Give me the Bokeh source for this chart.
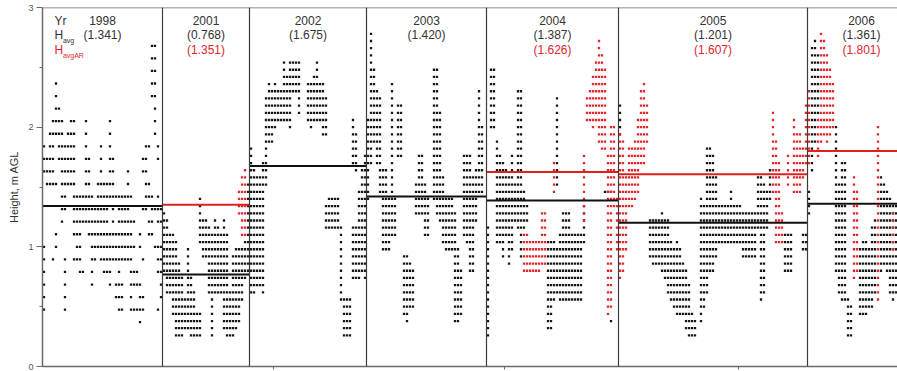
import numpy as np
from bokeh.plotting import figure
from bokeh.models import Range1d, Span, FixedTicker, ColumnDataSource, LinearAxis
from bokeh.embed import file_html
from bokeh.resources import INLINE
from bokeh.core.properties import value

# ---- seasons ---------------------------------------------------------------
years = ["1998", "2001", "2002", "2003", "2004", "2005", "2006"]
panel_days = [40, 29, 39, 40, 44, 63, 36]          # observation days per season
h_avg = [1.341, 0.768, 1.675, 1.420, 1.387, 1.201, 1.361]
h_avg_ar = [None, 1.351, None, None, 1.626, 1.607, 1.801]
x_ticks_days = [77, 154, 232]                      # unlabelled marks on the time axis
y_ticks = [0, 1, 2, 3]
y_minor_ticks = [0.5, 1.5, 2.5]

STEP_1998 = 0.105   # height resolution of the 1998 soundings (m)
STEP = 0.06         # height resolution from 2001 on (m)

# ---- 1998: readings per height level, as runs of days ----------------------
levels_1998 = [2.68, 2.575, 2.47, 2.365, 2.26, 2.155, 2.05, 1.945, 1.84, 1.735,
               1.63, 1.525, 1.42, 1.315, 1.21, 1.105, 1.0, 0.895, 0.79, 0.685,
               0.58, 0.475, 0.37]
runs_1998 = [
    [(36, 37)],
    [(36, 37)],
    [(36, 37)],
    [(4, 4), (36, 37)],
    [(4, 4), (36, 37)],
    [(4, 5), (37, 37)],
    [(3, 6), (9, 10), (14, 14), (22, 22), (37, 37)],
    [(2, 6), (8, 10), (14, 14), (22, 22), (37, 37)],
    [(0, 0), (2, 3), (5, 10), (14, 14), (19, 19), (22, 22), (34, 35), (38, 38)],
    [(0, 3), (5, 10), (14, 15), (19, 19), (22, 23), (33, 34), (38, 38)],
    [(0, 3), (6, 10), (14, 15), (19, 19), (22, 23), (28, 28), (33, 34)],
    [(1, 4), (6, 10), (14, 15), (18, 23), (28, 28), (34, 35)],
    [(6, 7), (10, 16), (18, 24), (25, 29), (34, 36), (38, 38)],
    [(6, 7), (10, 15), (16, 21), (23, 23), (25, 28), (33, 34), (36, 39)],
    [(6, 6), (10, 14), (15, 21), (23, 23), (25, 30), (35, 36), (38, 39)],
    [(4, 4), (10, 12), (15, 19), (20, 26), (27, 29), (32, 32), (35, 36)],
    [(0, 0), (4, 4), (11, 12), (16, 18), (19, 21), (22, 26), (27, 30), (32, 32), (37, 39)],
    [(0, 0), (3, 3), (7, 7), (10, 12), (16, 17), (19, 27), (28, 29), (33, 33), (38, 39)],
    [(0, 0), (7, 7), (12, 13), (16, 16), (20, 22), (25, 25), (29, 31), (38, 39)],
    [(0, 0), (7, 7), (16, 16), (22, 22), (24, 26), (29, 32), (39, 39)],
    [(0, 0), (7, 7), (24, 26), (29, 29), (32, 33), (39, 39)],
    [(0, 0), (7, 7), (25, 26), (29, 33), (38, 38)],
    [(32, 32)],
]

# ---- 2001-2006: daily height ranges (first day, last day, low, high) -------
cols_2001 = [(0, 0, 0.80, 1.28), (1, 1, 0.62, 1.22), (2, 2, 0.62, 1.10), (3, 3, 0.44, 1.10),
             (4, 4, 0.26, 1.04), (5, 5, 0.26, 0.86), (6, 6, 0.26, 0.74), (7, 7, 0.32, 0.56),
             (8, 8, 0.32, 0.98), (9, 9, 0.26, 0.74), (10, 10, 0.26, 0.62), (11, 11, 0.26, 0.44),
             (12, 12, 0.26, 0.44), (12, 12, 1.04, 1.40), (13, 14, 0.92, 1.22), (15, 15, 0.62, 1.16),
             (16, 16, 0.26, 1.10), (17, 17, 0.62, 1.22), (18, 18, 0.62, 1.16), (19, 19, 0.62, 1.10),
             (20, 20, 0.32, 1.22), (21, 21, 0.26, 1.10), (22, 22, 0.26, 0.62), (23, 23, 0.26, 0.92),
             (24, 24, 0.32, 0.98), (25, 25, 0.38, 0.98), (26, 26, 0.56, 0.98), (27, 27, 0.74, 1.04),
             (28, 28, 0.80, 1.52)]
cols_2001_ar = [(25, 25, 1.28, 1.46), (26, 26, 1.10, 1.58), (27, 27, 1.10, 1.64)]

cols_2002 = [(0, 0, 0.62, 1.82), (1, 1, 0.62, 1.64), (2, 3, 0.68, 1.58), (4, 4, 0.62, 1.70),
             (5, 5, 1.52, 2.24), (6, 6, 1.88, 2.36), (7, 7, 1.88, 2.30), (8, 8, 2.00, 2.36),
             (9, 10, 2.06, 2.30), (11, 11, 2.06, 2.54), (12, 12, 2.06, 2.42), (13, 13, 2.00, 2.54),
             (14, 15, 2.30, 2.54), (16, 16, 2.12, 2.54), (19, 19, 2.06, 2.36), (20, 20, 2.00, 2.36),
             (21, 21, 2.06, 2.42), (22, 22, 2.06, 2.54), (23, 23, 2.06, 2.36), (24, 24, 1.94, 2.36),
             (25, 25, 1.16, 1.34), (25, 25, 1.94, 2.24), (26, 29, 1.16, 1.40), (30, 30, 0.56, 1.16),
             (31, 33, 0.26, 0.56), (34, 34, 0.74, 1.16), (34, 34, 1.70, 2.06), (35, 35, 0.74, 1.16),
             (35, 35, 1.64, 1.94), (36, 36, 0.74, 1.46), (37, 37, 0.80, 1.64), (38, 38, 0.74, 1.76)]

cols_2003 = [(0, 0, 1.40, 2.06), (1, 1, 1.70, 2.78), (2, 2, 1.88, 2.48), (3, 3, 1.70, 2.30),
             (4, 4, 1.46, 2.24), (5, 6, 0.98, 1.64), (7, 7, 0.98, 1.40), (8, 8, 1.10, 2.36),
             (9, 9, 1.10, 1.40), (10, 11, 1.76, 2.18), (12, 12, 0.44, 0.92), (13, 13, 0.38, 0.92),
             (14, 14, 0.50, 0.86), (15, 15, 0.50, 0.80), (16, 16, 1.28, 1.52), (17, 18, 1.28, 1.76),
             (19, 19, 1.10, 1.52), (20, 20, 1.10, 1.40), (22, 22, 1.40, 2.48), (23, 23, 1.28, 2.48),
             (24, 24, 1.22, 2.12), (25, 25, 1.04, 1.58), (26, 28, 0.98, 1.40), (29, 29, 0.38, 1.28),
             (30, 30, 0.38, 0.98), (31, 31, 0.44, 0.80), (32, 32, 1.10, 1.76), (33, 33, 1.04, 1.76),
             (34, 34, 0.80, 1.76), (35, 35, 0.80, 1.58), (36, 36, 1.22, 1.64), (37, 37, 1.46, 2.30),
             (38, 38, 1.46, 2.00)]

cols_2004 = [(0, 0, 0.26, 1.16), (1, 2, 2.00, 2.48), (3, 3, 1.04, 1.88), (4, 4, 1.04, 1.76),
             (5, 5, 0.92, 1.70), (6, 6, 1.10, 1.64), (7, 7, 0.86, 1.58), (8, 8, 0.98, 1.76),
             (9, 9, 1.22, 1.52), (10, 10, 1.16, 2.30), (11, 11, 0.92, 2.30), (12, 12, 1.16, 1.46),
             (13, 13, 1.22, 1.34), (20, 21, 0.32, 1.04), (22, 22, 0.56, 1.04), (23, 23, 1.52, 2.24),
             (23, 23, 0.62, 0.98), (24, 31, 0.56, 1.10), (25, 27, 1.16, 1.28), (32, 32, 1.04, 1.34),
             (39, 41, 1.46, 1.46), (41, 41, 0.38, 0.38)]
cols_2004_ar = [(12, 13, 0.80, 1.10), (14, 17, 0.80, 1.04), (18, 19, 0.86, 1.28),
                (22, 22, 1.46, 1.70), (32, 32, 1.22, 1.76), (33, 33, 2.06, 2.24),
                (34, 34, 2.06, 2.30), (35, 35, 2.00, 2.42), (36, 36, 2.06, 2.54),
                (37, 37, 1.88, 2.72), (38, 38, 1.82, 2.60), (39, 39, 1.82, 2.48),
                (40, 40, 0.44, 1.76), (41, 41, 0.50, 2.00), (42, 42, 1.34, 2.00),
                (43, 43, 0.98, 1.40)]

cols_2005 = [(0, 0, 1.94, 2.18), (10, 10, 0.92, 1.22), (11, 13, 0.86, 1.22), (14, 14, 0.80, 1.28),
             (15, 15, 0.74, 1.22), (16, 16, 0.62, 1.22), (17, 17, 0.56, 1.04), (18, 18, 0.50, 0.98),
             (19, 19, 0.44, 1.04), (20, 20, 0.44, 0.98), (21, 21, 0.44, 0.86), (22, 22, 0.32, 0.80),
             (23, 23, 0.26, 0.68), (24, 24, 0.26, 0.44), (25, 25, 0.26, 0.38), (27, 27, 0.38, 1.40),
             (28, 28, 0.50, 1.34), (29, 29, 0.62, 1.82), (30, 30, 0.80, 1.82), (31, 31, 0.80, 1.76),
             (32, 32, 0.92, 1.58), (33, 36, 1.04, 1.34), (37, 37, 1.04, 1.46), (38, 40, 1.04, 1.34),
             (41, 45, 0.92, 1.28), (46, 46, 1.16, 1.58), (47, 47, 0.56, 1.58), (48, 48, 0.62, 1.52),
             (49, 49, 1.16, 1.46), (50, 50, 1.40, 1.64), (55, 57, 0.80, 1.10), (61, 62, 0.98, 1.10)]
cols_2005_ar = [(0, 0, 0.74, 1.94), (1, 1, 0.80, 1.88), (2, 2, 0.98, 1.58), (3, 4, 1.34, 1.82),
                (5, 5, 1.40, 1.88), (6, 6, 1.46, 2.06), (7, 7, 1.70, 2.30), (8, 8, 1.70, 2.36),
                (9, 9, 1.88, 2.18), (51, 51, 1.46, 2.12), (52, 52, 1.04, 1.88), (53, 53, 1.04, 1.70),
                (54, 54, 1.04, 1.28), (56, 56, 1.52, 1.76), (58, 58, 1.46, 2.06), (59, 60, 1.46, 1.94),
                (61, 61, 1.58, 1.82), (62, 62, 1.70, 2.18)]

cols_2006 = [(0, 0, 1.28, 1.46), (1, 1, 1.64, 2.66), (2, 2, 1.88, 2.72), (3, 3, 2.12, 2.60),
             (9, 9, 0.80, 2.00), (10, 10, 0.62, 1.52), (11, 12, 0.56, 1.70), (13, 13, 0.26, 0.56),
             (14, 14, 0.26, 0.50), (17, 17, 0.44, 0.98), (18, 19, 0.44, 1.04), (20, 20, 0.50, 0.98),
             (21, 21, 0.50, 1.16), (22, 22, 0.62, 1.22), (24, 24, 0.80, 1.58), (25, 25, 0.86, 1.52),
             (26, 26, 0.80, 1.46), (27, 27, 0.62, 1.40), (28, 28, 0.56, 1.34), (29, 29, 0.62, 1.34),
             (30, 30, 0.56, 1.40)]
cols_2006_ar = [(0, 0, 1.70, 2.30), (3, 3, 1.76, 2.06), (4, 4, 1.88, 2.78), (5, 5, 1.94, 2.72),
                (6, 6, 1.88, 2.60), (7, 7, 1.94, 2.48), (8, 8, 2.00, 2.36), (15, 15, 0.74, 1.58),
                (16, 16, 0.80, 1.46), (23, 23, 0.56, 2.00), (28, 28, 0.98, 1.28)]

season_cols = [None, cols_2001, cols_2002, cols_2003, cols_2004, cols_2005, cols_2006]
season_cols_ar = [None, cols_2001_ar, None, None, cols_2004_ar, cols_2005_ar, cols_2006_ar]

# ---- colours ----------------------------------------------------------------
INK = "#161616"
RED = "#e2252b"
AXIS = "#6a6a6a"
TEXT = "#333333"
FONT_NAME = "Liberation Sans"
FONT = value(FONT_NAME)

starts = np.concatenate([[0], np.cumsum(panel_days)[:-1]]).tolist()
ends = np.cumsum(panel_days).tolist()


def expand_cols(blocks, start, step):
    xs, ys = [], []
    for d0, d1, lo, hi in blocks:
        n = int(round((hi - lo) / step)) + 1
        for d in range(d0, d1 + 1):
            for k in range(n):
                xs.append(start + d + 0.5)
                ys.append(round(lo + k * step, 3))
    return xs, ys


def expand_rows(levels, runs, start):
    xs, ys = [], []
    for lev, spans in zip(levels, runs):
        for d0, d1 in spans:
            for d in range(d0, d1 + 1):
                xs.append(start + d + 0.5)
                ys.append(lev)
    return xs, ys


p = figure(width=897, height=371, x_range=Range1d(0, 285), y_range=Range1d(0, 3),
           output_backend="svg", toolbar_location=None, x_axis_location=None,
           min_border_left=42, min_border_right=0, min_border_top=7, min_border_bottom=5)
p.outline_line_color = None
p.xgrid.visible = False
p.ygrid.visible = False
p.background_fill_color = "white"
p.border_fill_color = "white"

# y axis
ax = p.yaxis[0]
ax.ticker = FixedTicker(ticks=y_ticks, minor_ticks=y_minor_ticks)
ax.axis_label = "Height, m AGL"
ax.axis_label_text_font = FONT_NAME
ax.axis_label_text_font_size = "11px"
ax.axis_label_text_font_style = "normal"
ax.axis_label_text_color = TEXT
ax.axis_label_standoff = 5
ax.major_label_text_font = FONT_NAME
ax.major_label_text_font_size = "9px"
ax.major_label_text_color = "#555555"
ax.major_label_standoff = 3
ax.axis_line_color = AXIS
ax.axis_line_width = 1.5
ax.major_tick_line_color = AXIS
ax.minor_tick_line_color = AXIS
ax.major_tick_out = 6
ax.major_tick_in = 0
ax.minor_tick_out = 3
ax.minor_tick_in = 0

# time axis: a plain baseline with small unlabelled marks
xax = LinearAxis(ticker=FixedTicker(ticks=x_ticks_days, minor_ticks=[]))
xax.major_label_text_font_size = "1px"
xax.major_label_text_color = None
xax.major_label_standoff = 0
xax.major_tick_out = 3
xax.major_tick_in = 0
xax.minor_tick_out = 0
xax.minor_tick_in = 0
xax.axis_line_color = AXIS
xax.axis_line_width = 1.5
xax.major_tick_line_color = AXIS
p.add_layout(xax, "below")

# frame top
p.add_layout(Span(location=3, dimension="width", line_color=AXIS, line_width=1.5))

# season dividers
for b in ends[:-1]:
    p.add_layout(Span(location=b, dimension="height", line_color="#3c3c3c", line_width=1.2))

# observations
bx, by = expand_rows(levels_1998, runs_1998, starts[0])
rx, ry = [], []
for i in range(1, len(years)):
    x, y = expand_cols(season_cols[i], starts[i], STEP)
    bx += x
    by += y
    if season_cols_ar[i]:
        x, y = expand_cols(season_cols_ar[i], starts[i], STEP)
        rx += x
        ry += y

p.scatter(bx, by, marker="square", size=2.3, fill_color=INK, line_color=None)
p.scatter(rx, ry, marker="square", size=2.3, fill_color=RED, line_color=None)

# seasonal means
p.segment(x0=starts, x1=ends, y0=h_avg, y1=h_avg, line_color="#111111", line_width=2)
ar_idx = [i for i, v in enumerate(h_avg_ar) if v is not None]
p.segment(x0=[starts[i] for i in ar_idx], x1=[ends[i] for i in ar_idx],
          y0=[h_avg_ar[i] for i in ar_idx], y1=[h_avg_ar[i] for i in ar_idx],
          line_color="#e0201b", line_width=2)

# headers
ROW1, ROW2, ROW3 = 2.8875, 2.7667, 2.6417
centers = [(s + e) / 2 for s, e in zip(starts, ends)]
hdr = ColumnDataSource(dict(
    x=centers + centers,
    y=[ROW1] * len(years) + [ROW2] * len(years),
    t=years + ["(%.3f)" % v for v in h_avg]))
p.text(x="x", y="y", text="t", source=hdr, text_font=FONT, text_font_size="12px",
       text_color=TEXT, text_align="center", text_baseline="middle")
hdr_ar = ColumnDataSource(dict(
    x=[centers[i] for i in ar_idx], y=[ROW3] * len(ar_idx),
    t=["(%.3f)" % h_avg_ar[i] for i in ar_idx]))
p.text(x="x", y="y", text="t", source=hdr_ar, text_font=FONT, text_font_size="12px",
       text_color=RED, text_align="center", text_baseline="middle")

# row captions in the first season
key_x = starts[0] + 4
p.text(x=[key_x, key_x], y=[ROW1, ROW2], text=["Yr", "H"], text_font=FONT,
       text_font_size="12px", text_color=TEXT, text_align="left", text_baseline="middle")
p.text(x=[key_x + 2.8], y=[ROW2 - 0.045], text=["avg"], text_font=FONT,
       text_font_size="7px", text_color=TEXT, text_align="left", text_baseline="middle")
p.text(x=[key_x], y=[ROW3], text=["H"], text_font=FONT,
       text_font_size="12px", text_color=RED, text_align="left", text_baseline="middle")
p.text(x=[key_x + 2.8], y=[ROW3 - 0.045], text=["avgAR"], text_font=FONT,
       text_font_size="7px", text_color=RED, text_align="left", text_baseline="middle")

open("out.html", "w").write(file_html(p, INLINE))
